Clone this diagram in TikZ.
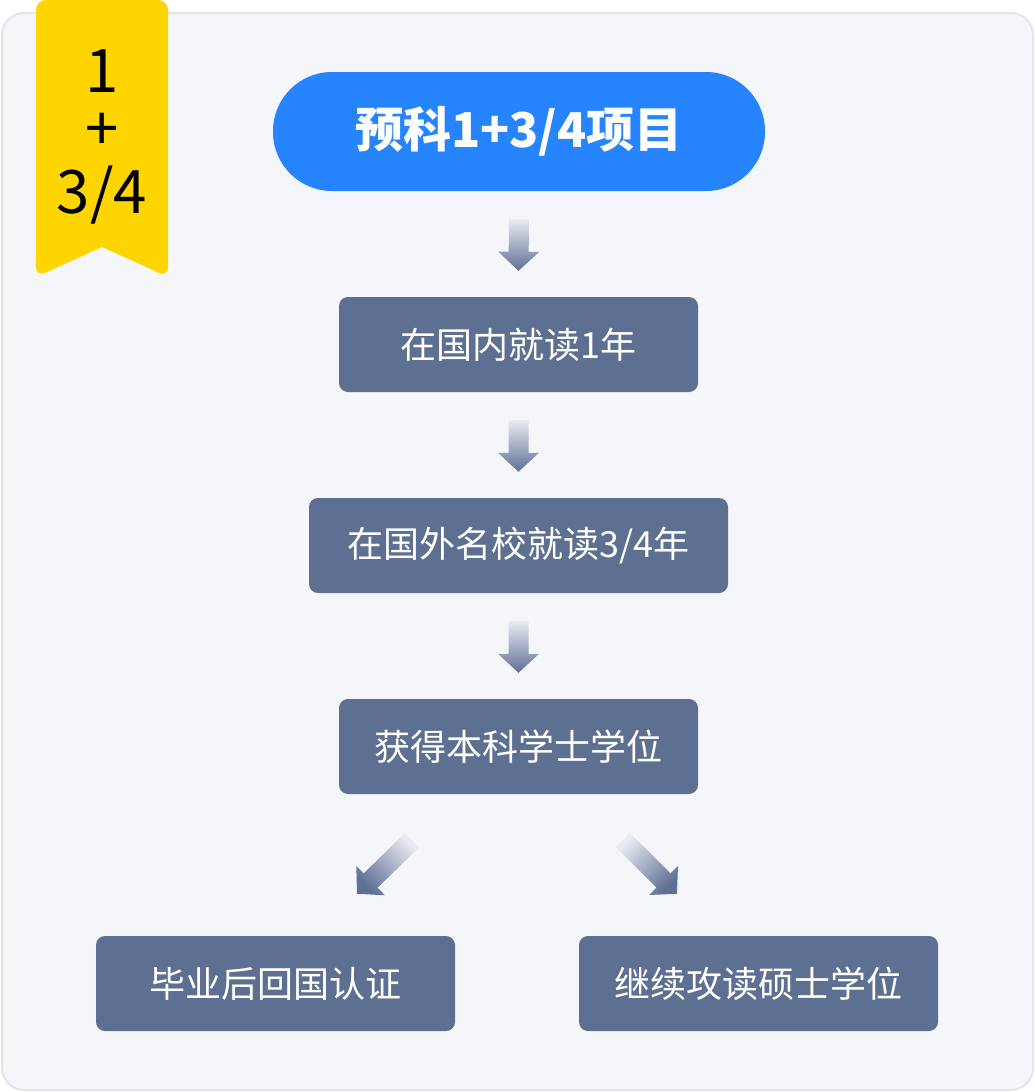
\documentclass[tikz,border=0pt]{standalone}
\usepackage{fontspec}
\setmainfont{Noto Sans CJK SC}
\usetikzlibrary{calc}

\definecolor{framebg}{HTML}{F4F6FA}
\definecolor{frameline}{HTML}{E3E5E9}
\definecolor{badgeyellow}{HTML}{FFD500}
\definecolor{pillblue}{HTML}{2684FF}
\definecolor{stepgray}{HTML}{5E7092}
\definecolor{arrowtop}{HTML}{E9ECF2}
\definecolor{arrowbot}{HTML}{5F6F94}

\tikzset{
  stepbox/.style={fill=stepgray, text=white, rounded corners=9pt, inner sep=0pt,
    minimum width=359pt, minimum height=95pt, font=\fontsize{36}{42}\selectfont},
  pill/.style={fill=pillblue, text=white, rounded corners=59pt, inner sep=0pt,
    minimum width=492pt, minimum height=119pt, font=\fontsize{48}{56}\selectfont\bfseries},
  badgetext/.style={anchor=base, inner sep=0pt, font=\fontsize{60}{60}\selectfont}
}

% block arrow from #1 to #2, shading turned by #3
\newcommand{\flowarrow}[3]{%
  \coordinate (ah) at ($(#2)!19pt!(#1)$);
  \shade[top color=arrowtop, bottom color=arrowbot, shading angle=#3]
    ($(#1)!10pt!90:(#2)$) -- ($(ah)!10pt!-90:(#1)$) -- ($(ah)!20.5pt!-90:(#1)$)
    -- (#2) -- ($(ah)!20.5pt!90:(#1)$) -- ($(ah)!10pt!90:(#1)$)
    -- ($(#1)!10pt!-90:(#2)$) -- cycle;
}

\begin{document}
\begin{tikzpicture}[x=1pt,y=-1pt]
\useasboundingbox (0,0) rectangle (1035,1092);
%\draw (0,0) grid (1035,1092);
\filldraw[fill=framebg, draw=frameline, line width=2pt, rounded corners=22pt] (2,13) rectangle (1033,1090);

% badge
\fill[badgeyellow, rounded corners=10pt] (36,0) -- (168,0) -- (168,277) [sharp corners] -- (102,247) [rounded corners=10pt] -- (36,277) -- cycle;
\node[badgetext] (bone) at (102,92) {1};
\node[badgetext] (bplus) at (102,150) {+};
\node[badgetext] (bfrac) at (102,213) {3/4};

\node[pill] (proj) at (519,131.5) {预科1+3/4项目};
\node[stepbox] (home) at (518.5,344.5) {在国内就读1年};
\node[stepbox, minimum width=419pt] (abroad) at (518.5,545.5) {在国外名校就读3/4年};
\node[stepbox] (degree) at (518.5,746.5) {获得本科学士学位};
\node[stepbox] (back) at (275.5,983.5) {毕业后回国认证};
\node[stepbox] (master) at (758.5,983.5) {继续攻读硕士学位};

\foreach \a/\b in {proj/home, home/abroad, abroad/degree}{
  \coordinate (s) at ($(\a.south)+(0,28)$);
  \coordinate (e) at ($(\b.north)+(0,-26)$);
  \flowarrow{s}{e}{0}
}
\coordinate (ls) at ($(degree.south)+(-106.5,46)$);
\coordinate (le) at ($(back.north)+(81.5,-42)$);
\flowarrow{ls}{le}{-45}
\coordinate (rs) at ($(degree.south)+(104.5,46)$);
\coordinate (re) at ($(master.north)+(-81.5,-42)$);
\flowarrow{rs}{re}{45}
\end{tikzpicture}
\end{document}
